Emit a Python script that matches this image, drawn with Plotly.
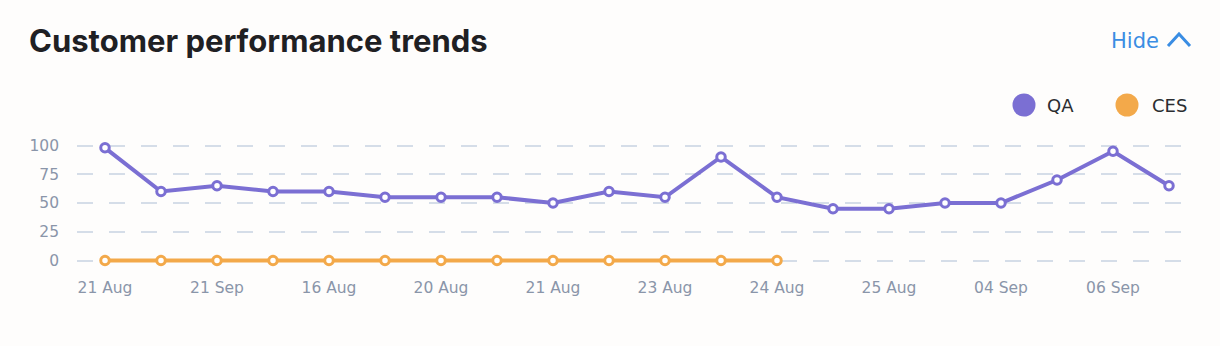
import plotly.graph_objects as go

# Sample positions (one per review period) and their axis labels
point_index = list(range(20))
tick_positions = point_index[::2]
tick_labels = ["21 Aug", "21 Sep", "16 Aug", "20 Aug", "21 Aug",
               "23 Aug", "24 Aug", "25 Aug", "04 Sep", "06 Sep"]

qa_scores = [98, 60, 65, 60, 60, 55, 55, 55, 50, 60,
             55, 90, 55, 45, 45, 50, 50, 70, 95, 65]
ces_scores = [0, 0, 0, 0, 0, 0, 0, 0, 0, 0, 0, 0, 0]

y_ticks = [0, 25, 50, 75, 100]

QA_COLOR = "#7b6fd3"
CES_COLOR = "#f3a94a"
BG = "#fefdfc"
TICK_COLOR = "#8a95a9"

W, H = 1220, 346
ML, MR, MT, MB = 77, 23, 134, 74
PW, PH = W - ML - MR, H - MT - MB


def px_x(px):
    return (px - ML) / PW


def px_y(py):
    return (H - MB - py) / PH


fig = go.Figure()

for name, values, color in [("QA", qa_scores, QA_COLOR),
                            ("CES", ces_scores, CES_COLOR)]:
    fig.add_trace(go.Scatter(
        x=point_index[:len(values)], y=values, name=name,
        mode="lines+markers",
        line=dict(color=color, width=4),
        marker=dict(size=8.5, color="white", line=dict(color=color, width=3)),
        showlegend=False,
        cliponaxis=False,
    ))

fig.update_xaxes(
    range=[-0.5, 19.5],
    tickvals=tick_positions, ticktext=tick_labels,
    showgrid=False, zeroline=False, showline=False, ticks="",
    tickfont=dict(family="DejaVu Sans", size=15.5, color=TICK_COLOR),
    ticklabelstandoff=4,
    fixedrange=True,
)
fig.update_yaxes(
    range=[-10, 110],
    tickvals=y_ticks,
    showgrid=True, gridcolor="#d5dde8", gridwidth=2, griddash="16px,16px",
    zeroline=False, showline=False, ticks="",
    tickfont=dict(family="DejaVu Sans", size=15.5, color=TICK_COLOR),
    ticklabelstandoff=17,
    fixedrange=True,
)

# Title and the collapse link
fig.add_annotation(
    text="Customer performance trends", xref="paper", yref="paper",
    x=px_x(27), y=px_y(40), xanchor="left", yanchor="middle",
    showarrow=False,
    font=dict(family="Inter", size=31, weight=700, color="#1f2023"),
)
fig.add_annotation(
    text="Hide", xref="paper", yref="paper",
    x=px_x(1161), y=px_y(41), xanchor="right", yanchor="middle",
    showarrow=False, font=dict(family="DejaVu Sans", size=21, color="#3a8de3"),
)
fig.add_shape(
    type="path", xref="paper", yref="paper",
    path=f"M {px_x(1168)} {px_y(46)} L {px_x(1179)} {px_y(34)} L {px_x(1190)} {px_y(46)}",
    line=dict(color="#3a8de3", width=3),
)

# Series key
for label, color, cx, tx in [("QA", QA_COLOR, 1024, 1045),
                             ("CES", CES_COLOR, 1127, 1150)]:
    fig.add_shape(
        type="circle", xref="paper", yref="paper",
        x0=px_x(cx - 11.5), x1=px_x(cx + 11.5),
        y0=px_y(105 + 11.5), y1=px_y(105 - 11.5),
        fillcolor=color, line=dict(width=0),
    )
    fig.add_annotation(
        text=label, xref="paper", yref="paper",
        x=px_x(tx), y=px_y(105), xanchor="left", yanchor="middle",
        showarrow=False, font=dict(family="DejaVu Sans", size=18, color="#2b2d31"),
    )

fig.update_layout(
    width=W, height=H,
    margin=dict(l=ML, r=MR, t=MT, b=MB),
    paper_bgcolor=BG, plot_bgcolor=BG,
    showlegend=False,
    hovermode="closest",
)

fig.write_html("out.html", config={"displayModeBar": False})
